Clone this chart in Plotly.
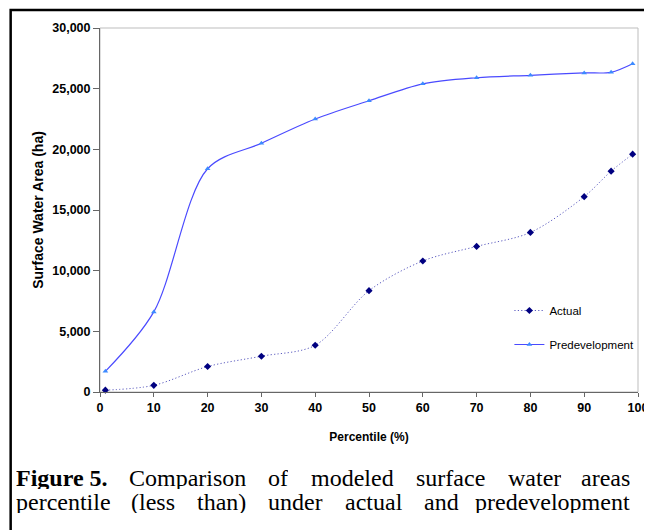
import plotly.graph_objects as go

percentile = [1, 10, 20, 30, 40, 50, 60, 70, 80, 90, 95, 99]
actual = [150, 550, 2100, 2950, 3850, 8350, 10800, 12000, 13150, 16100, 18200, 19600]
predevelopment = [1700, 6600, 18400, 20500, 22500, 24000, 25400, 25900, 26100, 26300, 26350, 27050]

x_ticks = [0, 10, 20, 30, 40, 50, 60, 70, 80, 90, 100]
y_ticks = [0, 5000, 10000, 15000, 20000, 25000, 30000]
y_tick_labels = ["0", "5,000", "10,000", "15,000", "20,000", "25,000", "30,000"]

caption_line1 = ["Figure 5.", "Comparison", "of", "modeled", "surface", "water", "areas"]
caption_line2 = ["percentile", "(less", "than)", "under", "actual", "and", "predevelopment"]

# page offset (browser body margin)
OFF = 8
W, H = 652, 530
L, T = 100 - OFF, 28 - OFF
R = W - (648 - OFF)
B = H - (392 - OFF)
pw, ph = W - L - R, H - T - B

def px(x):
    return (x - OFF - L) / pw

def py(y):
    return (H - B - (y - OFF)) / ph

# Times-like advance widths (em) to justify caption lines
REG = {'a': .444, 'b': .5, 'c': .444, 'd': .5, 'e': .444, 'f': .333, 'g': .5, 'h': .5, 'i': .278,
       'l': .278, 'm': .778, 'n': .5, 'o': .5, 'p': .5, 'r': .333, 's': .389, 't': .278, 'u': .5,
       'v': .5, 'w': .722, 'C': .667, '(': .333, ')': .333, '.': .25, ' ': .25, '5': .5}
BOLD = {'F': .611, 'i': .278, 'g': .5, 'u': .556, 'r': .444, 'e': .444, ' ': .25, '5': .5, '.': .25}

def wid(word, bold, fs):
    tab = BOLD if bold else REG
    return sum(tab.get(c, .5) for c in word) * fs

fig = go.Figure()
fig.add_trace(go.Scatter(
    x=percentile, y=actual, name="Actual", mode="lines+markers",
    line=dict(color="#5c5cc0", width=1, dash="1.2px,2.2px", shape="spline", smoothing=0.9),
    marker=dict(symbol="diamond", size=5.5, color="#000080"),
    legendgroup="a",
))
fig.add_trace(go.Scatter(
    x=percentile, y=predevelopment, name="Predevelopment", mode="lines+markers",
    line=dict(color="#4a4aff", width=1.2, shape="spline", smoothing=0.9),
    marker=dict(symbol="triangle-up", size=5, color="#3d8bff"),
    legendgroup="b",
))

shapes = [
    dict(type="rect", xref="paper", yref="paper", x0=0, y0=0, x1=1, y1=1,
         line=dict(color="#bdbdbd", width=1), layer="below"),
    dict(type="rect", xref="paper", yref="paper", x0=px(9), y0=py(560), x1=px(680), y1=py(10),
         line=dict(color="black", width=2.5)),
]

annotations = []
fs = 24
box_h = 23
left_edge, right_edge = 13, 641
for words, yc in ((caption_line1, 477), (caption_line2, 501)):
    widths = [wid(w, i == 0 and words is caption_line1, fs) for i, w in enumerate(words)]
    gap = (right_edge - left_edge - sum(widths)) / (len(words) - 1)
    xpos = left_edge
    for i, w in enumerate(words):
        bold = (i == 0 and words is caption_line1)
        txt = "<b>%s</b>" % w if bold else w
        last = i == len(words) - 1
        annotations.append(dict(x=px(right_edge if last else xpos), y=py(yc), xref="paper", yref="paper",
                                text=txt, showarrow=False, xanchor="right" if last else "left",
                                yanchor="middle", height=box_h, valign="middle", borderpad=0,
                                font=dict(family="Liberation Serif", size=fs, color="black")))
        xpos += widths[i] + gap

fig.update_layout(
    width=W, height=H,
    margin=dict(l=L, r=R, t=T, b=B, pad=0),
    paper_bgcolor="white", plot_bgcolor="white",
    font=dict(family="Liberation Sans", color="black"),
    showlegend=True,
    legend=dict(x=px(517), y=py(296), xanchor="left", yanchor="top",
                bgcolor="rgba(0,0,0,0)", tracegroupgap=15,
                font=dict(family="Liberation Sans", size=11.5, color="black"),
                itemwidth=30),
    shapes=shapes,
    annotations=annotations,
)
fig.update_xaxes(
    range=[0, 100], tickvals=x_ticks, ticktext=["<b>%d</b>" % v for v in x_ticks],
    showgrid=False, zeroline=False, showline=True, linecolor="#666666", linewidth=1,
    ticks="outside", ticklen=4, tickcolor="#666666",
    tickfont=dict(family="Liberation Sans", size=12.5, color="black"),
    title=dict(text="<b>Percentile (%)</b>", font=dict(family="Liberation Sans", size=12, color="black"), standoff=18),
)
fig.update_yaxes(
    range=[0, 30000], tickvals=y_ticks, ticktext=["<b>%s</b>" % t for t in y_tick_labels],
    showgrid=False, zeroline=False, showline=True, linecolor="#666666", linewidth=1,
    ticks="outside", ticklen=6, tickcolor="#666666",
    tickfont=dict(family="Liberation Sans", size=12.5, color="black"),
    title=dict(text="<b>Surface Water Area (ha)</b>", font=dict(family="Liberation Sans", size=14, color="black"), standoff=5),
)
fig.update_traces(cliponaxis=False)

fig.write_html("out.html")
